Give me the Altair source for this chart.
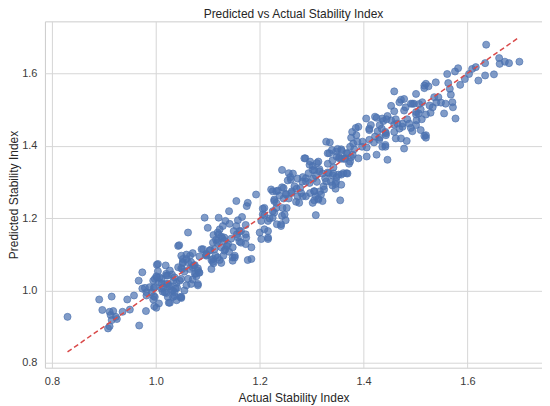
import altair as alt
import pandas as pd

# (actual, predicted) pairs, grouped by region
low_range = [
    (0.830, 0.927), (0.891, 0.975), (0.897, 0.946), (0.915, 0.983), (0.911, 0.941),
    (0.918, 0.943), (0.913, 0.932), (0.923, 0.927), (0.925, 0.921), (0.911, 0.901),
    (0.908, 0.895), (0.915, 0.918), (0.936, 0.941), (0.945, 0.975), (0.950, 0.947),
    (0.958, 0.986), (0.968, 0.903), (0.974, 1.050), (0.967, 1.027), (0.981, 0.943),
    (0.974, 1.005), (0.982, 0.995), (0.988, 1.009), (0.996, 0.984), (0.997, 0.956),
    (1.001, 0.952), (1.002, 1.071), (1.002, 1.036), (1.006, 1.023), (1.019, 1.069),
    (1.023, 1.018), (1.025, 0.966), (1.013, 0.997), (1.030, 1.000), (1.043, 1.123),
    (1.043, 1.064), (1.038, 1.005), (1.036, 0.984), (1.020, 1.046),
]

lower_mid = [
    (0.979, 1.007), (0.982, 0.986), (0.998, 1.032), (0.996, 1.007), (0.998, 0.982),
    (1.004, 1.073), (1.004, 1.053), (1.011, 1.020), (1.023, 1.041), (1.025, 1.011),
    (1.031, 1.044), (1.034, 1.027), (1.020, 0.993), (1.033, 1.000), (1.041, 1.007),
    (1.046, 1.027), (1.045, 1.125), (1.049, 1.096), (1.059, 1.099), (1.066, 1.096),
    (1.052, 1.078), (1.062, 1.078), (1.051, 1.059), (1.065, 1.059), (1.073, 1.069),
    (1.077, 1.046), (1.083, 1.050), (1.081, 1.018), (1.062, 1.160), (1.088, 1.114),
    (1.094, 1.201), (1.100, 1.173), (1.097, 1.101), (1.105, 1.112), (1.107, 1.084),
    (1.115, 1.096), (1.111, 1.075), (1.123, 1.084), (1.130, 1.096), (1.134, 1.114),
    (1.126, 1.119), (1.118, 1.132), (1.111, 1.153), (1.121, 1.155), (1.128, 1.144),
    (1.123, 1.169), (1.129, 1.178), (1.121, 1.201), (1.141, 1.219), (1.134, 1.192),
    (1.142, 1.184), (1.155, 1.178), (1.158, 1.194), (1.166, 1.203), (1.164, 1.164),
    (1.173, 1.181), (1.173, 1.155), (1.161, 1.135), (1.173, 1.128), (1.152, 1.096),
    (1.148, 1.082), (1.177, 1.084), (1.155, 1.247), (1.175, 1.233), (1.049, 0.979),
    (1.055, 1.000), (1.068, 1.018),
    (1.119, 1.137), (1.113, 1.114), (1.104, 1.110), (1.097, 1.096), (1.110, 1.087),
    (1.132, 1.146), (1.139, 1.128), (1.132, 1.110), (1.158, 1.146), (1.164, 1.132),
    (1.148, 1.119), (1.161, 1.164), (1.174, 1.146), (1.052, 1.087), (1.071, 1.064),
    (1.081, 1.055), (1.075, 1.046), (1.027, 1.055), (1.036, 1.036), (1.020, 1.018),
    (1.007, 1.036), (0.995, 1.027), (1.011, 1.005), (1.047, 0.982),
]

lower_mid_dense = [
    (1.119, 1.160), (1.126, 1.149), (1.116, 1.140), (1.132, 1.137), (1.110, 1.132),
    (1.137, 1.123), (1.145, 1.143), (1.150, 1.164), (1.156, 1.155), (1.141, 1.107),
    (1.148, 1.091), (1.119, 1.091), (1.110, 1.079), (1.107, 1.059), (1.126, 1.076),
    (1.091, 1.114), (1.097, 1.098), (1.084, 1.094), (1.071, 1.103), (1.059, 1.087),
    (1.052, 1.076), (1.049, 1.061), (1.055, 1.052), (1.068, 1.078), (1.075, 1.070),
    (1.081, 1.061), (1.084, 1.049), (1.078, 1.039), (1.071, 1.030), (1.081, 1.014),
    (1.062, 1.032), (1.059, 1.014), (1.049, 1.032), (1.040, 1.021), (1.036, 0.995),
    (1.033, 0.982), (1.023, 0.982), (1.017, 0.995), (1.014, 1.009), (1.027, 1.012),
    (1.020, 1.041), (1.011, 1.032), (1.001, 1.039), (0.998, 1.009), (0.992, 0.995),
    (1.049, 0.982), (1.040, 0.973), (1.027, 0.966), (1.006, 0.964), (0.995, 0.975),
]

middle = [
    (1.193, 1.265), (1.177, 1.242), (1.209, 1.228), (1.232, 1.242), (1.232, 1.228),
    (1.216, 1.192), (1.206, 1.210), (1.233, 1.183), (1.200, 1.160), (1.216, 1.164),
    (1.216, 1.142), (1.203, 1.142), (1.184, 1.119), (1.184, 1.087), (1.152, 1.091),
    (1.206, 1.226), (1.209, 1.208), (1.203, 1.192), (1.219, 1.199), (1.225, 1.219),
    (1.228, 1.247), (1.225, 1.274), (1.235, 1.276), (1.243, 1.333), (1.243, 1.285),
    (1.250, 1.267), (1.246, 1.254), (1.252, 1.228), (1.243, 1.206), (1.241, 1.178),
    (1.250, 1.194), (1.256, 1.324), (1.260, 1.306), (1.256, 1.254), (1.262, 1.274),
    (1.267, 1.288), (1.271, 1.281), (1.273, 1.260), (1.270, 1.245), (1.276, 1.242),
    (1.283, 1.260), (1.282, 1.301), (1.289, 1.310), (1.288, 1.365), (1.296, 1.347),
    (1.302, 1.333), (1.310, 1.352), (1.315, 1.329), (1.296, 1.297), (1.303, 1.309),
    (1.310, 1.300), (1.305, 1.274), (1.305, 1.249), (1.313, 1.254), (1.316, 1.274),
    (1.323, 1.288), (1.326, 1.310), (1.333, 1.324), (1.342, 1.340), (1.340, 1.318),
    (1.337, 1.300), (1.346, 1.294), (1.348, 1.313), (1.357, 1.320), (1.367, 1.324),
    (1.346, 1.281), (1.355, 1.249), (1.308, 1.208), (1.209, 1.169), (1.216, 1.146),
]

middle_dense = [
    (1.334, 1.379), (1.347, 1.384), (1.357, 1.390), (1.367, 1.379), (1.376, 1.368),
    (1.363, 1.363), (1.353, 1.368), (1.340, 1.359), (1.331, 1.350), (1.372, 1.350),
    (1.382, 1.390), (1.286, 1.365), (1.297, 1.356), (1.302, 1.344), (1.313, 1.356),
    (1.315, 1.335), (1.305, 1.332), (1.294, 1.324), (1.283, 1.313), (1.273, 1.309),
    (1.264, 1.323), (1.259, 1.313), (1.254, 1.304), (1.289, 1.301), (1.308, 1.317),
    (1.321, 1.323), (1.331, 1.326), (1.342, 1.323), (1.352, 1.320), (1.361, 1.324),
    (1.369, 1.323), (1.347, 1.301), (1.357, 1.292), (1.340, 1.290), (1.328, 1.301),
    (1.222, 1.279), (1.232, 1.274), (1.238, 1.262), (1.228, 1.251), (1.246, 1.283),
    (1.251, 1.265), (1.261, 1.269), (1.278, 1.283), (1.280, 1.269), (1.289, 1.260),
    (1.297, 1.269), (1.305, 1.274), (1.308, 1.260), (1.313, 1.251), (1.302, 1.242),
    (1.318, 1.265), (1.324, 1.279), (1.321, 1.247), (1.244, 1.228), (1.248, 1.210),
    (1.228, 1.215), (1.225, 1.201), (1.241, 1.183),
]

upper_mid = [
    (1.328, 1.411), (1.335, 1.409), (1.331, 1.379), (1.339, 1.388), (1.350, 1.391),
    (1.358, 1.386), (1.348, 1.370), (1.357, 1.364), (1.365, 1.365), (1.369, 1.379),
    (1.374, 1.356), (1.374, 1.397), (1.380, 1.406), (1.378, 1.438), (1.386, 1.429),
    (1.390, 1.452), (1.388, 1.411), (1.397, 1.397), (1.406, 1.395), (1.411, 1.416),
    (1.420, 1.409), (1.427, 1.440), (1.431, 1.457), (1.425, 1.477), (1.405, 1.475),
    (1.414, 1.457), (1.411, 1.443), (1.422, 1.425), (1.431, 1.422), (1.442, 1.438),
    (1.444, 1.473), (1.442, 1.402), (1.446, 1.361), (1.425, 1.375), (1.406, 1.370),
    (1.390, 1.365), (1.379, 1.375),
    (1.459, 1.550), (1.517, 1.566), (1.501, 1.543), (1.478, 1.529), (1.469, 1.520),
    (1.453, 1.510), (1.459, 1.495), (1.494, 1.516), (1.507, 1.515), (1.501, 1.486),
    (1.422, 1.480), (1.436, 1.475), (1.453, 1.470), (1.465, 1.461), (1.475, 1.452),
    (1.488, 1.461), (1.501, 1.457), (1.510, 1.443), (1.520, 1.429), (1.459, 1.438),
    (1.472, 1.420), (1.483, 1.413), (1.478, 1.392), (1.443, 1.429), (1.411, 1.447),
    (1.430, 1.416), (1.436, 1.397), (1.385, 1.449), (1.376, 1.422), (1.398, 1.411),
    (1.353, 1.365),
]

high_range = [
    (1.636, 1.679), (1.661, 1.642), (1.662, 1.626), (1.672, 1.632), (1.680, 1.628),
    (1.700, 1.632), (1.651, 1.597), (1.634, 1.594), (1.634, 1.628), (1.621, 1.580),
    (1.616, 1.617), (1.609, 1.612), (1.603, 1.598), (1.595, 1.584), (1.582, 1.614),
    (1.576, 1.605), (1.586, 1.568), (1.561, 1.598), (1.563, 1.573), (1.539, 1.575),
    (1.520, 1.571), (1.517, 1.559), (1.525, 1.564), (1.566, 1.557), (1.568, 1.541),
    (1.571, 1.520), (1.572, 1.506), (1.577, 1.475), (1.555, 1.489), (1.544, 1.534),
    (1.536, 1.534), (1.549, 1.519), (1.558, 1.516), (1.540, 1.519), (1.533, 1.506),
    (1.527, 1.511), (1.529, 1.491), (1.520, 1.486), (1.513, 1.520), (1.510, 1.500),
    (1.506, 1.489), (1.501, 1.493), (1.497, 1.516), (1.491, 1.516), (1.481, 1.506),
    (1.478, 1.497), (1.472, 1.527), (1.462, 1.473), (1.459, 1.458), (1.446, 1.482),
    (1.438, 1.468), (1.435, 1.447), (1.443, 1.434), (1.469, 1.447), (1.475, 1.461),
    (1.484, 1.473), (1.491, 1.449), (1.494, 1.440), (1.502, 1.470), (1.512, 1.473),
    (1.517, 1.427), (1.520, 1.422), (1.442, 1.397), (1.462, 1.420),
]

# perfect-prediction reference line (min to max of actual)
line_values = [0.83, 1.70]

axis_ticks = [0.8, 1.0, 1.2, 1.4, 1.6]

pairs = (low_range + lower_mid + lower_mid_dense + middle + middle_dense
         + upper_mid + high_range)
df = pd.DataFrame(pairs, columns=["actual", "predicted"])
line_df = pd.DataFrame({"actual": line_values, "predicted": line_values})

dom = [0.7865, 1.7435]
xs = alt.Scale(domain=dom, nice=False, zero=False)
ys = alt.Scale(domain=dom, nice=False, zero=False)

x_enc = alt.X("actual:Q", scale=xs,
              axis=alt.Axis(values=axis_ticks, format=".1f",
                            title="Actual Stability Index", titlePadding=6))
y_enc = alt.Y("predicted:Q", scale=ys,
              axis=alt.Axis(values=axis_ticks, format=".1f",
                            title="Predicted Stability Index", titlePadding=1))

points = alt.Chart(df).mark_point(
    shape="circle", filled=True, size=50,
    fill="#4c72b0", fillOpacity=0.7,
    stroke="#4c72b0", strokeOpacity=0.75, strokeWidth=0.9,
).encode(x=x_enc, y=y_enc)

ref_line = alt.Chart(line_df).mark_line(
    color="#d94a4a", strokeDash=[5, 3], strokeWidth=1.5
).encode(x=x_enc, y=y_enc)

chart = (points + ref_line).properties(
    width=498,
    height=347,
    title=alt.Title(
        "Predicted vs Actual Stability Index",
        fontSize=12, font="Liberation Sans", fontWeight="normal",
        color="#262626", baseline="alphabetic", offset=3, dy=12,
    ),
    autosize=alt.AutoSizeParams(type="none"),
    padding={"left": 37, "top": 13, "right": 0, "bottom": 38},
).configure_axis(
    grid=True,
    gridColor="#d6d6d6",
    gridWidth=1,
    domain=False,
    ticks=False,
    labelPadding=8,
    labelFont="Liberation Sans",
    labelFontSize=11,
    labelColor="#3b3b3b",
    titleFont="Liberation Sans",
    titleFontSize=12,
    titleFontWeight="normal",
    titleColor="#262626",
).configure_view(
    stroke="#cccccc",
    strokeWidth=1,
)

chart.save("out.html", embed_options={"renderer": "svg", "actions": False})
